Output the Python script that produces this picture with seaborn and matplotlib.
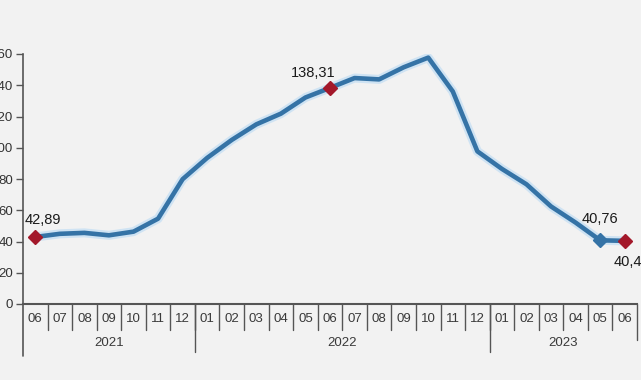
import matplotlib
matplotlib.use("Agg")
import matplotlib.pyplot as plt
import matplotlib.transforms as mtransforms
import pandas as pd
import seaborn as sns

# Annual change, 2021-06 .. 2023-06
months = ["06", "07", "08", "09", "10", "11", "12",
          "01", "02", "03", "04", "05", "06", "07", "08", "09", "10", "11", "12",
          "01", "02", "03", "04", "05", "06"]
years = ["2021", "2022", "2023"]
year_counts = [7, 12, 6]
values = [42.89, 44.92, 45.52, 43.96, 46.31, 54.62, 79.89,
          93.53, 105.01, 114.97, 121.82, 132.16, 138.31, 144.61, 143.75, 151.50, 157.69, 136.02, 97.72,
          86.46, 76.61, 62.43, 52.11, 40.76, 40.42]
red_points = [0, 12, 24]
blue_points = [23]
labels = {0: "42,89", 12: "138,31", 23: "40,76", 24: "40,42"}

df = pd.DataFrame({"pos": range(len(values)), "value": values})

sns.set_theme(style="white")
plt.rcParams["font.family"] = ["Liberation Sans", "DejaVu Sans"]

bg = "#f2f2f2"
line_col = "#3573a6"
red_col = "#a3182a"
axis_col = "#555555"

fig = plt.figure(figsize=(6.41, 3.80), dpi=100, facecolor=bg)
ax = fig.add_axes([23 / 641, 76 / 380, 614 / 641, 250 / 380])
ax.set_facecolor(bg)

# soft halo under the line
ax.plot(df["pos"], df["value"], color="#cfe3f3", lw=6.5, solid_capstyle="round", zorder=1)
sns.lineplot(data=df, x="pos", y="value", color=line_col, lw=3.3, ax=ax, zorder=2)

ax.plot(red_points, [values[i] for i in red_points], "D", color=red_col, ms=7, zorder=4, clip_on=False)
ax.plot(blue_points, [values[i] for i in blue_points], "D", color=line_col, ms=7, zorder=3, clip_on=False)

offsets = {0: (-8, 12, "left"), 12: (-12, 11, "center"), 23: (0, 15, "center"), 24: (-8, -15, "left")}
for i, txt in labels.items():
    dx, dy, ha = offsets[i]
    ax.annotate(txt, (i, values[i]), xytext=(dx, dy), textcoords="offset points",
                ha=ha, va="center", fontsize=10.5, color="#1a1a1a", annotation_clip=False)

ax.set_xlim(-0.5, len(values) - 0.5)
ax.set_ylim(0, 160)
ax.set_yticks(range(0, 161, 20))
ax.tick_params(axis="y", length=5, width=1, color=axis_col, labelsize=9.5, labelcolor="#333333", pad=2, left=True)
ax.set_xticks([])
ax.set_xlabel("")
ax.set_ylabel("")

for s in ["top", "right"]:
    ax.spines[s].set_visible(False)
ax.spines["left"].set_color(axis_col)
ax.spines["left"].set_linewidth(1.2)
ax.spines["bottom"].set_color(axis_col)
ax.spines["bottom"].set_linewidth(1.5)

trans = mtransforms.blended_transform_factory(ax.transData, ax.transAxes)

# month labels and separators
for i, m in enumerate(months):
    ax.text(i, -0.058, m, transform=trans, ha="center", va="center", fontsize=9.5, color="#3a3a3a")
for i in range(len(months) - 1):
    ax.plot([i + 0.5, i + 0.5], [0, -0.104], transform=trans, color=axis_col, lw=1, clip_on=False)

# year labels and longer separators
start = 0
for y, n in zip(years, year_counts):
    ax.text(start + (n - 1) / 2, -0.158, y, transform=trans, ha="center", va="center",
            fontsize=9.5, color="#3a3a3a")
    start += n
    if start < len(months):
        ax.plot([start - 0.5, start - 0.5], [0, -0.192], transform=trans, color=axis_col, lw=1, clip_on=False)

ax.plot([-0.5, -0.5], [0, -0.208], transform=trans, color=axis_col, lw=1.2, clip_on=False)
ax.plot([len(months) - 0.5, len(months) - 0.5], [0, -0.144], transform=trans, color=axis_col, lw=1, clip_on=False)

fig.savefig("out.png", dpi=100, facecolor=bg)
